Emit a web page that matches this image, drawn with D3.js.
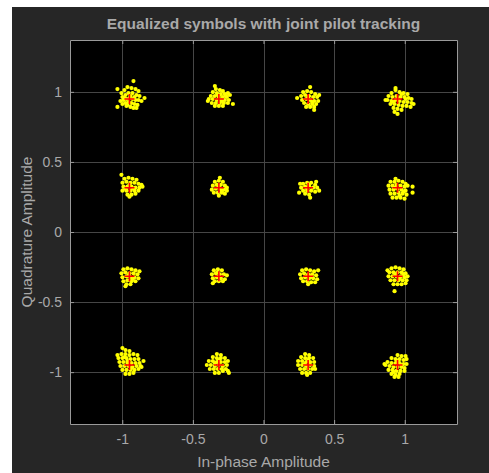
<!DOCTYPE html>
<html>
<head>
<meta charset="utf-8">
<script src="https://cdn.jsdelivr.net/npm/d3@7"></script>
<style>
    body { margin: 0; background: #ffffff; }
    #container { position: absolute; left: 0; top: 0; }
    text { font-family: "Liberation Sans", Arial, sans-serif; }
</style>
</head>
<body>
<div id="container"></div>
<script>
// Ideal 16-QAM points (rows top to bottom, columns left to right)
const refI = [-0.949, -0.316, 0.316, 0.949];
const refQ = [0.949, 0.316, -0.316, -0.949];
const tickValues = [-1, -0.5, 0, 0.5, 1];
const tickLabels = ["-1", "-0.5", "0", "0.5", "1"];

// Equalized symbol errors [dI, dQ] for each ideal point, in steps of errStep
const errStep = 0.0071;
const errRow1 = [
    [[-8,6],[-5,9],[-2,12],[2,11],[6,10],[9,8],[-7,2],[-4,4],[-1,6],[3,6],[7,4],[10,3],[-9,-2],[-6,-1],[-3,0],[0,1],[3,0],[6,-1],[9,-1],[12,-2],[-7,-5],[-4,-4],[-1,-3],[2,-4],[5,-5],[8,-6],[-3,-7],[1,-8],[4,-9],[4,18],[-12,10],[-12,-8],[7,-9],[15,1],[-5,1],[1,3],[5,2],[-2,-6]],
    [[-3,10],[1,9],[4,8],[-6,7],[-2,6],[2,5],[6,5],[9,6],[-8,3],[-4,3],[0,2],[4,2],[8,2],[11,4],[-10,0],[-6,0],[-2,-1],[2,-1],[6,-1],[10,-1],[-7,-4],[-3,-4],[1,-4],[5,-4],[9,-4],[-4,-7],[0,-7],[4,-7],[-4,13],[14,-5],[-11,-2],[-1,4],[3,-2],[7,3]],
    [[-5,7],[-1,8],[3,7],[7,5],[-7,3],[-3,4],[1,3],[5,2],[9,2],[-6,-1],[-2,0],[2,-1],[6,-2],[10,-2],[-4,-4],[0,-5],[4,-5],[8,-5],[-2,-8],[2,-8],[6,-8],[2,12],[-11,1],[6,-11],[11,4],[0,2],[4,-3]],
    [[-2,9],[2,7],[6,6],[10,5],[-6,6],[-9,3],[-5,2],[-1,3],[3,2],[7,2],[11,1],[14,0],[-10,-1],[-6,-2],[-2,-1],[2,-2],[6,-3],[10,-3],[14,-4],[-7,-5],[-3,-5],[1,-6],[5,-7],[9,-7],[13,-8],[-4,-9],[0,-10],[4,-11],[-3,-13],[0,-15],[-2,11],[16,-5],[-12,-1],[0,0],[4,5],[-4,-3],[8,0]]
];
const errRow2 = [
    [[-5,9],[-1,10],[3,9],[7,8],[-7,5],[-3,6],[1,5],[5,5],[9,4],[12,3],[-6,1],[-2,1],[2,1],[6,0],[10,0],[13,1],[-7,-3],[-3,-3],[1,-3],[5,-3],[9,-3],[-2,-7],[2,-7],[6,-6],[0,-9],[-8,13],[0,3],[4,-1],[-4,-1]],
    [[-4,6],[0,7],[4,6],[-6,2],[-2,3],[2,3],[6,2],[8,0],[-7,-2],[-3,-1],[1,-1],[5,-2],[8,-3],[-5,-5],[-1,-5],[3,-5],[6,-6],[0,-8],[1,10],[0,1],[3,-3]],
    [[-5,4],[-1,5],[3,5],[7,3],[-7,0],[-3,1],[1,1],[5,0],[9,0],[-5,-3],[-1,-3],[3,-3],[7,-4],[-3,-6],[1,-7],[-9,-5],[2,-10],[8,6],[11,-3],[-8,4],[1,3],[-1,-1]],
    [[-7,6],[-3,6],[1,7],[5,6],[8,4],[-9,2],[-5,2],[-1,3],[3,2],[7,1],[10,2],[-8,-2],[-4,-2],[0,-1],[4,-2],[8,-3],[-7,-6],[-3,-6],[1,-5],[5,-6],[9,-7],[-5,-10],[-1,-10],[3,-10],[7,-11],[15,1],[15,-5],[-2,9],[-2,0],[2,-8],[6,-4]]
];
const errRow3 = [
    [[-6,7],[-2,8],[2,7],[6,6],[-8,3],[-4,4],[0,3],[4,3],[8,2],[-7,-1],[-3,0],[1,-1],[5,-1],[9,-2],[-6,-5],[-2,-4],[2,-5],[6,-5],[-3,-8],[1,-8],[-4,-10],[10,5],[-1,1],[3,-3]],
    [[-5,6],[-1,7],[3,6],[-7,2],[-3,3],[1,2],[5,2],[8,1],[-6,-2],[-2,-1],[2,-2],[6,-3],[-4,-5],[0,-5],[4,-5],[-6,-7],[0,0],[-1,4]],
    [[-6,6],[-2,7],[2,6],[6,5],[-8,2],[-4,3],[0,2],[4,2],[8,1],[-7,-2],[-3,-1],[1,-2],[5,-2],[9,-3],[-5,-5],[-1,-5],[3,-6],[7,-6],[0,-8],[10,6],[-1,0],[3,0]],
    [[-6,8],[-2,9],[2,8],[6,7],[-8,4],[-4,4],[0,4],[4,4],[8,3],[-9,0],[-5,0],[-1,0],[3,0],[7,-1],[10,0],[-7,-4],[-3,-4],[1,-4],[5,-4],[9,-4],[-4,-8],[0,-8],[4,-8],[8,-7],[-3,-15],[-10,6],[-2,2],[2,-2],[6,2]]
];
const errRow4 = [
    [[-4,15],[0,14],[-8,11],[-4,11],[0,10],[4,11],[8,10],[-11,7],[-7,7],[-3,7],[1,6],[5,6],[9,6],[-10,3],[-6,3],[-2,2],[2,2],[6,2],[10,2],[-9,-1],[-5,-1],[-1,-1],[3,-2],[7,-1],[11,-1],[-7,-5],[-3,-5],[1,-5],[5,-5],[9,-4],[-4,-9],[0,-9],[4,-8],[-7,17],[14,4],[12,-2],[-12,10],[-2,4],[2,-3],[-5,8]],
    [[-2,11],[2,10],[-6,8],[-2,7],[2,7],[6,7],[-10,4],[-6,4],[-2,3],[2,3],[6,3],[9,4],[-12,0],[-8,0],[-4,-1],[0,0],[4,-1],[8,0],[-9,-4],[-5,-4],[-1,-4],[3,-4],[7,-4],[-4,-8],[0,-8],[10,-8],[9,-6],[0,5],[-4,2],[4,-6]],
    [[-3,11],[1,10],[-7,8],[-3,7],[1,7],[5,7],[-10,4],[-6,4],[-2,3],[2,3],[6,3],[-10,0],[-6,0],[-2,-1],[2,0],[6,-1],[-8,-4],[-4,-4],[0,-4],[4,-4],[7,-4],[-6,-8],[-2,-8],[2,-8],[-1,-10],[0,5],[-4,1]],
    [[0,10],[4,9],[8,9],[-6,7],[-2,6],[2,6],[6,5],[9,6],[-10,3],[-6,2],[-2,2],[2,2],[6,1],[9,1],[-12,0],[-8,-1],[-4,-2],[0,-2],[4,-2],[7,-3],[-9,-5],[-5,-5],[-1,-6],[3,-6],[7,-6],[-6,-9],[-2,-10],[2,-9],[-3,-12],[1,-12],[-13,1],[0,4],[4,0],[-4,-7]]
];
const errRows = [errRow1, errRow2, errRow3, errRow4];

const titleText = "Equalized symbols with joint pilot tracking";
const xLabelText = "In-phase Amplitude";
const yLabelText = "Quadrature Amplitude";

var width = 489;
var height = 473;
var margin = {left: 70, top: 40, right: 32, bottom: 49};
var textColor = "#a9a9a9";

// 1. Build the symbol lists
var refPoints = [];
var rxPoints = [];
errRows.forEach((row, r) => {
    row.forEach((errs, c) => {
        refPoints.push({i: refI[c], q: refQ[r]});
        errs.forEach(e => rxPoints.push({i: refI[c] + e[0] * errStep, q: refQ[r] + e[1] * errStep}));
    });
});

// 2. Svg with the dark figure panel
var svg = d3.select("#container")
    .append("svg")
    .attr("width", width)
    .attr("height", height);

svg.append("rect")
    .attr("x", 12)
    .attr("y", 7)
    .attr("width", width - 12)
    .attr("height", height - 7)
    .attr("fill", "#262626");

var x = d3.scaleLinear().domain([-1.37, 1.37]).range([margin.left, width - margin.right]);
var y = d3.scaleLinear().domain([-1.37, 1.37]).range([height - margin.bottom, margin.top]);

var plotW = width - margin.right - margin.left;
var plotH = height - margin.bottom - margin.top;

svg.append("rect")
    .attr("x", margin.left)
    .attr("y", margin.top)
    .attr("width", plotW)
    .attr("height", plotH)
    .attr("fill", "#000000");

svg.append("clipPath")
    .attr("id", "clip")
    .append("rect")
    .attr("x", margin.left)
    .attr("y", margin.top)
    .attr("width", plotW)
    .attr("height", plotH);

// Grid
svg.append("g")
    .selectAll("line")
    .data(tickValues)
    .enter()
    .append("line")
    .attr("x1", d => Math.round(x(d)) + 0.5)
    .attr("x2", d => Math.round(x(d)) + 0.5)
    .attr("y1", margin.top)
    .attr("y2", margin.top + plotH)
    .attr("stroke", "#464646");

svg.append("g")
    .selectAll("line")
    .data(tickValues)
    .enter()
    .append("line")
    .attr("y1", d => Math.round(y(d)) + 0.5)
    .attr("y2", d => Math.round(y(d)) + 0.5)
    .attr("x1", margin.left)
    .attr("x2", margin.left + plotW)
    .attr("stroke", "#464646");

// 3. Symbols
var plot = svg.append("g").attr("clip-path", "url(#clip)");

plot.selectAll("circle")
    .data(rxPoints)
    .enter()
    .append("circle")
    .attr("cx", d => x(d.i))
    .attr("cy", d => y(d.q))
    .attr("r", 2.1)
    .attr("fill", "#ffff00");

plot.selectAll("path.ref")
    .data(refPoints)
    .enter()
    .append("path")
    .attr("class", "ref")
    .attr("d", d => "M" + (x(d.i) - 5) + "," + y(d.q) + "h10M" + x(d.i) + "," + (y(d.q) - 5) + "v10")
    .attr("stroke", "#ff0000")
    .attr("stroke-width", 1.6)
    .attr("fill", "none");

// 4. Axes (box with inward ticks on all sides)
function styleAxis(g) {
    g.select(".domain").attr("stroke", "#9a9a9a");
    g.selectAll(".tick line").attr("stroke", "#9a9a9a");
    g.selectAll(".tick text").attr("fill", textColor).style("font-size", "14px");
}

svg.append("g")
    .attr("transform", "translate(0," + (margin.top + plotH) + ")")
    .call(d3.axisBottom(x).tickValues(tickValues).tickFormat((d, i) => tickLabels[i]).tickSizeInner(-4).tickSizeOuter(0).tickPadding(10))
    .call(styleAxis);

svg.append("g")
    .attr("transform", "translate(0," + margin.top + ")")
    .call(d3.axisTop(x).tickValues(tickValues).tickFormat("").tickSizeInner(-4).tickSizeOuter(0))
    .call(styleAxis);

svg.append("g")
    .attr("transform", "translate(" + margin.left + ",0)")
    .call(d3.axisLeft(y).tickValues(tickValues).tickFormat((d, i) => tickLabels[i]).tickSizeInner(-4).tickSizeOuter(0).tickPadding(8))
    .call(styleAxis);

svg.append("g")
    .attr("transform", "translate(" + (margin.left + plotW) + ",0)")
    .call(d3.axisRight(y).tickValues(tickValues).tickFormat("").tickSizeInner(-4).tickSizeOuter(0))
    .call(styleAxis);

svg.selectAll(".domain").attr("fill", "none");

// 5. Titles
svg.append("text")
    .attr("x", margin.left + plotW / 2)
    .attr("y", 29)
    .attr("text-anchor", "middle")
    .attr("fill", textColor)
    .style("font-size", "15.5px")
    .style("font-weight", "bold")
    .text(titleText);

svg.append("text")
    .attr("x", margin.left + plotW / 2)
    .attr("y", 467)
    .attr("text-anchor", "middle")
    .attr("fill", textColor)
    .style("font-size", "15.5px")
    .text(xLabelText);

svg.append("text")
    .attr("transform", "translate(32," + (margin.top + plotH / 2) + ") rotate(-90)")
    .attr("text-anchor", "middle")
    .attr("fill", textColor)
    .style("font-size", "15.5px")
    .text(yLabelText);
</script>
</body>
</html>
